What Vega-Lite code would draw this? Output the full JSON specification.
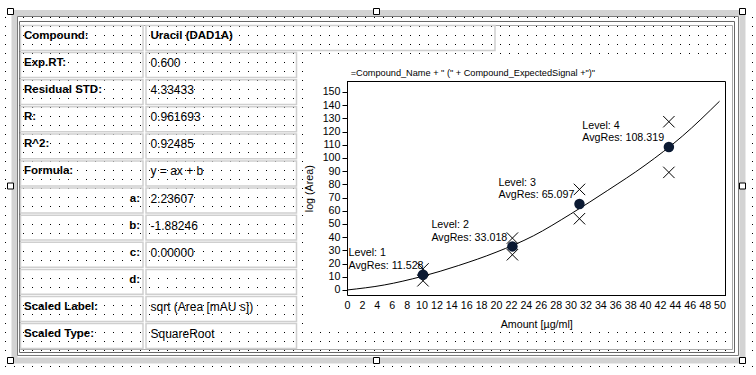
{
  "$schema": "https://vega.github.io/schema/vega-lite/v6.json",
  "width": 378.5,
  "height": 214,
  "autosize": {"type": "none"},
  "padding": {"left": 347, "top": 81, "right": 30.5, "bottom": 80},
  "background": "white",
  "config": {"view": {"stroke": null}, "font": "Liberation Sans"},
  "data": {"values": [{}]},
  "datasets": {
    "gridAnchor": [{"gx": 0, "gy": 0}],
    "handles": [
      {"hx": 0, "hy": 0}, {"hx": 0.5, "hy": 0}, {"hx": 1, "hy": 0},
      {"hx": 0, "hy": 0.5}, {"hx": 1, "hy": 0.5},
      {"hx": 0, "hy": 1}, {"hx": 0.5, "hy": 1}, {"hx": 1, "hy": 1}
    ],
    "table": [
      {"row": 0, "label": "Compound:", "value": "Uracil (DAD1A)", "kind": "field"},
      {"row": 1, "label": "Exp.RT:", "value": "0.600", "kind": "field"},
      {"row": 2, "label": "Residual STD:", "value": "4.33433", "kind": "field"},
      {"row": 3, "label": "R:", "value": "0.961693", "kind": "field"},
      {"row": 4, "label": "R^2:", "value": "0.92485", "kind": "field"},
      {"row": 5, "label": "Formula:", "value": "y = ax + b", "kind": "field"},
      {"row": 6, "label": "a:", "value": "2.23607", "kind": "coef"},
      {"row": 7, "label": "b:", "value": "-1.88246", "kind": "coef"},
      {"row": 8, "label": "c:", "value": "0.00000", "kind": "coef"},
      {"row": 9, "label": "d:", "value": "", "kind": "coef"},
      {"row": 10, "label": "Scaled Label:", "value": "sqrt (Area [mAU s])", "kind": "field"},
      {"row": 11, "label": "Scaled Type:", "value": "SquareRoot", "kind": "field"}
    ],
    "levels": [
      {"level": 1, "amount": 10.2, "resp": 11.528, "label": ["Level: 1", "AvgRes: 11.528"]},
      {"level": 2, "amount": 22.2, "resp": 33.018, "label": ["Level: 2", "AvgRes: 33.018"]},
      {"level": 3, "amount": 31.2, "resp": 65.097, "label": ["Level: 3", "AvgRes: 65.097"]},
      {"level": 4, "amount": 43.2, "resp": 108.319, "label": ["Level: 4", "AvgRes: 108.319"]}
    ],
    "reps": [
      {"level": 1, "amount": 10.2, "resp": 7.0},
      {"level": 1, "amount": 10.2, "resp": 16.0},
      {"level": 2, "amount": 22.2, "resp": 39.3},
      {"level": 2, "amount": 22.2, "resp": 26.7},
      {"level": 3, "amount": 31.2, "resp": 76.2},
      {"level": 3, "amount": 31.2, "resp": 54.0},
      {"level": 4, "amount": 43.2, "resp": 127.5},
      {"level": 4, "amount": 43.2, "resp": 89.1}
    ],
    "curve": [
      {"amount": 0, "resp": 0},
      {"amount": 5, "resp": 3.8},
      {"amount": 10, "resp": 10.2},
      {"amount": 15, "resp": 18.6},
      {"amount": 20, "resp": 28.6},
      {"amount": 25, "resp": 41.0},
      {"amount": 30, "resp": 57.5},
      {"amount": 35, "resp": 75.5},
      {"amount": 40, "resp": 94.5},
      {"amount": 45, "resp": 116.5},
      {"amount": 50, "resp": 143.0}
    ]
  },
  "layer": [
    {
      "data": {"name": "gridAnchor"},
      "mark": {"type": "point", "opacity": 0},
      "encoding": {
        "x": {"field": "gx", "type": "quantitative", "scale": {"domain": [0, 1], "range": [-347, 409], "nice": false, "zero": false}, "axis": null},
        "y": {
          "field": "gy", "type": "quantitative",
          "scale": {"domain": [0, 40], "range": [-73, 287], "nice": false, "zero": false},
          "axis": {
            "orient": "left", "grid": true, "domain": false, "ticks": false, "labels": false, "title": null,
            "values": [-0.3333333, 1, 2, 3, 4, 5, 36, 37, 38, 39.7777778],
            "gridColor": "#000000", "gridOpacity": 1, "gridWidth": 1, "gridDash": [1, 8], "gridDashOffset": 4.5
          }
        }
      }
    },
    {
      "data": {"name": "gridAnchor"},
      "mark": {"type": "point", "opacity": 0},
      "encoding": {
        "x": {"field": "gx", "type": "quantitative", "scale": {"domain": [0, 1], "range": [-347, -42], "nice": false, "zero": false}, "axis": null},
        "y": {
          "field": "gy", "type": "quantitative",
          "scale": {"domain": [0, 40], "range": [-73, 287], "nice": false, "zero": false},
          "axis": {
            "orient": "left", "grid": true, "domain": false, "ticks": false, "labels": false, "title": null,
            "values": [6, 7, 8, 9, 10, 11, 12, 13, 14, 15, 16, 17, 18, 19, 20, 21, 22, 23, 24, 25, 26, 27, 28, 29, 30, 31, 32, 33, 34, 35],
            "gridColor": "#000000", "gridOpacity": 1, "gridWidth": 1, "gridDash": [1, 8], "gridDashOffset": 4.5
          }
        }
      }
    },
    {
      "data": {"name": "gridAnchor"},
      "mark": {"type": "point", "opacity": 0},
      "encoding": {
        "x": {"field": "gx", "type": "quantitative", "scale": {"domain": [0, 1], "range": [382, 409], "nice": false, "zero": false}, "axis": null},
        "y": {
          "field": "gy", "type": "quantitative",
          "scale": {"domain": [0, 40], "range": [-73, 287], "nice": false, "zero": false},
          "axis": {
            "orient": "left", "grid": true, "domain": false, "ticks": false, "labels": false, "title": null,
            "values": [6, 7, 8, 9, 10, 11, 12, 13, 14, 15, 16, 17, 18, 19, 20, 21, 22, 23, 24, 25, 26, 27, 28, 29, 30, 31, 32, 33, 34, 35],
            "gridColor": "#000000", "gridOpacity": 1, "gridWidth": 1, "gridDash": [1, 8], "gridDashOffset": 4.5
          }
        }
      }
    },
    {
      "layer": [
        {
          "mark": {"type": "rect", "filled": false, "stroke": "#d3d3d3", "strokeWidth": 6},
          "encoding": {
            "x": {"datum": 0.005464, "type": "quantitative", "scale": {"domain": [0, 1], "range": [-336.5, 395.5], "nice": false, "zero": false}, "axis": null},
            "x2": {"datum": 1},
            "y": {"datum": 0.004298, "type": "quantitative", "scale": {"domain": [0, 1], "range": [-69.5, 279.5], "nice": false, "zero": false}, "axis": null},
            "y2": {"datum": 1}
          }
        },
        {
          "mark": {"type": "rect", "filled": false, "stroke": "#7a7a7a", "strokeWidth": 1},
          "encoding": {
            "x": {"datum": 0.009563, "type": "quantitative", "scale": {"domain": [0, 1], "range": [-336.5, 395.5], "nice": false, "zero": false}, "axis": null},
            "x2": {"datum": 0.994536},
            "y": {"datum": 0.014327, "type": "quantitative", "scale": {"domain": [0, 1], "range": [-69.5, 279.5], "nice": false, "zero": false}, "axis": null},
            "y2": {"datum": 0.985673}
          }
        },
        {
          "mark": {"type": "rect", "filled": false, "stroke": "#666666", "strokeWidth": 1},
          "encoding": {
            "x": {"datum": 0.012295, "type": "quantitative", "scale": {"domain": [0, 1], "range": [-336.5, 395.5], "nice": false, "zero": false}, "axis": null},
            "x2": {"datum": 0.989071},
            "y": {"datum": 0.028653, "type": "quantitative", "scale": {"domain": [0, 1], "range": [-69.5, 279.5], "nice": false, "zero": false}, "axis": null},
            "y2": {"datum": 0.977077}
          }
        },
        {
          "mark": {"type": "rect", "filled": false, "stroke": "#a8a8a8", "strokeWidth": 1},
          "encoding": {
            "x": {"datum": 0.013661, "type": "quantitative", "scale": {"domain": [0, 1], "range": [-336.5, 395.5], "nice": false, "zero": false}, "axis": null},
            "x2": {"datum": 0.986339},
            "y": {"datum": 0.040115, "type": "quantitative", "scale": {"domain": [0, 1], "range": [-69.5, 279.5], "nice": false, "zero": false}, "axis": null},
            "y2": {"datum": 0.968481}
          }
        },
        {
          "data": {"name": "handles"},
          "mark": {"type": "point", "shape": "square", "filled": true, "fill": "white", "stroke": "black", "strokeWidth": 1, "size": 36, "opacity": 1},
          "encoding": {
            "x": {"field": "hx", "type": "quantitative", "scale": {"domain": [0, 1], "range": [-336.5, 395.5], "nice": false, "zero": false}, "axis": null},
            "y": {"field": "hy", "type": "quantitative", "scale": {"domain": [0, 1], "range": [-69.5, 279.5], "nice": false, "zero": false}, "axis": null}
          }
        }
      ]
    },
    {
      "data": {"name": "table"},
      "encoding": {
        "y": {"field": "row", "type": "ordinal", "scale": {"type": "band", "domain": [0, 1, 2, 3, 4, 5, 6, 7, 8, 9, 10, 11], "range": [-55.5, 267.5], "paddingInner": 0.08, "paddingOuter": 0}, "axis": null}
      },
      "layer": [
        {
          "mark": {"type": "rect", "filled": false, "stroke": "#cfcfcf", "strokeWidth": 1.5},
          "encoding": {
            "x": {"datum": 0, "type": "quantitative", "scale": {"domain": [0, 1, 2, 3, 4], "range": [-326.5, -204, -201, -50.5, 148], "nice": false, "zero": false}, "axis": null},
            "x2": {"datum": 1}
          }
        },
        {
          "transform": [{"filter": "datum.row > 0"}],
          "mark": {"type": "rect", "filled": false, "stroke": "#cfcfcf", "strokeWidth": 1.5},
          "encoding": {
            "x": {"datum": 2, "type": "quantitative", "scale": {"domain": [0, 1, 2, 3, 4], "range": [-326.5, -204, -201, -50.5, 148], "nice": false, "zero": false}, "axis": null},
            "x2": {"datum": 3}
          }
        },
        {
          "transform": [{"filter": "datum.row == 0"}],
          "mark": {"type": "rect", "filled": false, "stroke": "#cfcfcf", "strokeWidth": 1.5},
          "encoding": {
            "x": {"datum": 2, "type": "quantitative", "scale": {"domain": [0, 1, 2, 3, 4], "range": [-326.5, -204, -201, -50.5, 148], "nice": false, "zero": false}, "axis": null},
            "x2": {"datum": 4}
          }
        },
        {
          "transform": [{"filter": "datum.kind == 'field'"}],
          "mark": {"type": "text", "align": "left", "baseline": "middle", "dx": 3.5, "dy": -2, "fontSize": 11.5, "fontWeight": "bold", "color": "black"},
          "encoding": {
            "x": {"datum": 0, "type": "quantitative", "scale": {"domain": [0, 1, 2, 3, 4], "range": [-326.5, -204, -201, -50.5, 148], "nice": false, "zero": false}, "axis": null},
            "text": {"field": "label"}
          }
        },
        {
          "transform": [{"filter": "datum.kind == 'coef'"}],
          "mark": {"type": "text", "align": "right", "baseline": "middle", "dx": -3, "dy": -2, "fontSize": 11.5, "fontWeight": "bold", "color": "black"},
          "encoding": {
            "x": {"datum": 1, "type": "quantitative", "scale": {"domain": [0, 1, 2, 3, 4], "range": [-326.5, -204, -201, -50.5, 148], "nice": false, "zero": false}, "axis": null},
            "text": {"field": "label"}
          }
        },
        {
          "transform": [{"filter": "datum.row > 0"}],
          "mark": {"type": "text", "align": "left", "baseline": "middle", "dx": 4.5, "dy": -2, "fontSize": 12, "color": "black"},
          "encoding": {
            "x": {"datum": 2, "type": "quantitative", "scale": {"domain": [0, 1, 2, 3, 4], "range": [-326.5, -204, -201, -50.5, 148], "nice": false, "zero": false}, "axis": null},
            "text": {"field": "value"}
          }
        },
        {
          "transform": [{"filter": "datum.row == 0"}],
          "mark": {"type": "text", "align": "left", "baseline": "middle", "dx": 4.5, "dy": -2, "fontSize": 11.5, "fontWeight": "bold", "color": "black"},
          "encoding": {
            "x": {"datum": 2, "type": "quantitative", "scale": {"domain": [0, 1, 2, 3, 4], "range": [-326.5, -204, -201, -50.5, 148], "nice": false, "zero": false}, "axis": null},
            "text": {"field": "value"}
          }
        }
      ]
    },
    {
      "data": {"name": "curve"},
      "mark": {"type": "line", "color": "black", "strokeWidth": 1, "interpolate": "monotone"},
      "encoding": {
        "x": {
          "field": "amount", "type": "quantitative",
          "scale": {"domain": [0, 50.8], "range": [0, 378.5], "nice": false, "zero": false},
          "axis": {
            "orient": "bottom", "grid": false,
            "values": [0, 2, 4, 6, 8, 10, 12, 14, 16, 18, 20, 22, 24, 26, 28, 30, 32, 34, 36, 38, 40, 42, 44, 46, 48, 50],
            "ticks": false, "labelPadding": 5, "labelFontSize": 10.7, "labelColor": "black", "labelFlush": false, "labelOverlap": false,
            "domain": true, "domainColor": "black", "domainWidth": 1,
            "title": "Amount [µg/ml]", "titleFontSize": 10.7, "titleFontWeight": "normal", "titleColor": "black", "titlePadding": 10
          }
        },
        "y": {
          "field": "resp", "type": "quantitative",
          "scale": {"domain": [-3.79, 157.95], "range": [214, 0.5], "nice": false, "zero": false},
          "axis": {
            "orient": "left", "grid": false,
            "values": [0, 10, 20, 30, 40, 50, 60, 70, 80, 90, 100, 110, 120, 130, 140, 150],
            "ticks": true, "tickSize": 5, "tickColor": "black", "labelPadding": 2, "labelFontSize": 10.7, "labelColor": "black", "labelFlush": false, "labelOverlap": false,
            "domain": true, "domainColor": "black", "domainWidth": 1,
            "title": "log (Area)", "titleFontSize": 10.7, "titleFontWeight": "normal", "titleColor": "black", "titlePadding": 8
          }
        }
      }
    },
    {
      "data": {"name": "reps"},
      "mark": {"type": "point", "shape": "M-1,-1L1,1M-1,1L1,-1", "filled": false, "stroke": "black", "strokeWidth": 1, "size": 130, "opacity": 1},
      "encoding": {
        "x": {"field": "amount", "type": "quantitative", "scale": {"domain": [0, 50.8], "range": [0, 378.5], "nice": false, "zero": false}, "axis": null},
        "y": {"field": "resp", "type": "quantitative", "scale": {"domain": [-3.79, 157.95], "range": [214, 0.5], "nice": false, "zero": false}, "axis": null}
      }
    },
    {
      "data": {"name": "levels"},
      "mark": {"type": "point", "shape": "circle", "filled": true, "color": "#0b1a33", "size": 110, "opacity": 1},
      "encoding": {
        "x": {"field": "amount", "type": "quantitative", "scale": {"domain": [0, 50.8], "range": [0, 378.5], "nice": false, "zero": false}, "axis": null},
        "y": {"field": "resp", "type": "quantitative", "scale": {"domain": [-3.79, 157.95], "range": [214, 0.5], "nice": false, "zero": false}, "axis": null}
      }
    },
    {
      "data": {"name": "levels"},
      "transform": [{"filter": "datum.level == 1"}],
      "mark": {"type": "text", "align": "left", "baseline": "alphabetic", "dx": -74.5, "dy": -18.5, "fontSize": 10.7, "lineHeight": 12.6, "color": "black"},
      "encoding": {
        "x": {"field": "amount", "type": "quantitative", "scale": {"domain": [0, 50.8], "range": [0, 378.5], "nice": false, "zero": false}, "axis": null},
        "y": {"field": "resp", "type": "quantitative", "scale": {"domain": [-3.79, 157.95], "range": [214, 0.5], "nice": false, "zero": false}, "axis": null},
        "text": {"field": "label"}
      }
    },
    {
      "data": {"name": "levels"},
      "transform": [{"filter": "datum.level == 2 || datum.level == 3"}],
      "mark": {"type": "text", "align": "left", "baseline": "alphabetic", "dx": -81, "dy": -18.5, "fontSize": 10.7, "lineHeight": 12.6, "color": "black"},
      "encoding": {
        "x": {"field": "amount", "type": "quantitative", "scale": {"domain": [0, 50.8], "range": [0, 378.5], "nice": false, "zero": false}, "axis": null},
        "y": {"field": "resp", "type": "quantitative", "scale": {"domain": [-3.79, 157.95], "range": [214, 0.5], "nice": false, "zero": false}, "axis": null},
        "text": {"field": "label"}
      }
    },
    {
      "data": {"name": "levels"},
      "transform": [{"filter": "datum.level == 4"}],
      "mark": {"type": "text", "align": "left", "baseline": "alphabetic", "dx": -86.6, "dy": -18.5, "fontSize": 10.7, "lineHeight": 12.6, "color": "black"},
      "encoding": {
        "x": {"field": "amount", "type": "quantitative", "scale": {"domain": [0, 50.8], "range": [0, 378.5], "nice": false, "zero": false}, "axis": null},
        "y": {"field": "resp", "type": "quantitative", "scale": {"domain": [-3.79, 157.95], "range": [214, 0.5], "nice": false, "zero": false}, "axis": null},
        "text": {"field": "label"}
      }
    },
    {
      "mark": {"type": "rule", "color": "black", "strokeWidth": 1},
      "encoding": {
        "x": {"datum": 0, "type": "quantitative", "scale": {"domain": [0, 50.8], "range": [0, 378.5], "nice": false, "zero": false}, "axis": null},
        "x2": {"datum": 50.8},
        "y": {"datum": 157.95, "type": "quantitative", "scale": {"domain": [-3.79, 157.95], "range": [214, 0.5], "nice": false, "zero": false}, "axis": null}
      }
    },
    {
      "mark": {"type": "rule", "color": "black", "strokeWidth": 1},
      "encoding": {
        "x": {"datum": 50.8, "type": "quantitative", "scale": {"domain": [0, 50.8], "range": [0, 378.5], "nice": false, "zero": false}, "axis": null},
        "y": {"datum": -3.79, "type": "quantitative", "scale": {"domain": [-3.79, 157.95], "range": [214, 0.5], "nice": false, "zero": false}, "axis": null},
        "y2": {"datum": 157.95}
      }
    },
    {
      "mark": {"type": "text", "align": "left", "baseline": "middle", "dx": 3.7, "dy": -8.5, "fontSize": 9.2, "color": "black"},
      "encoding": {
        "x": {"datum": 0, "type": "quantitative", "scale": {"domain": [0, 50.8], "range": [0, 378.5], "nice": false, "zero": false}, "axis": null},
        "y": {"datum": 157.95, "type": "quantitative", "scale": {"domain": [-3.79, 157.95], "range": [214, 0.5], "nice": false, "zero": false}, "axis": null},
        "text": {"value": "=Compound_Name + \" (\" + Compound_ExpectedSignal +\")\""}
      }
    }
  ],
  "resolve": {"scale": {"x": "independent", "y": "independent"}, "axis": {"x": "independent", "y": "independent"}}
}
